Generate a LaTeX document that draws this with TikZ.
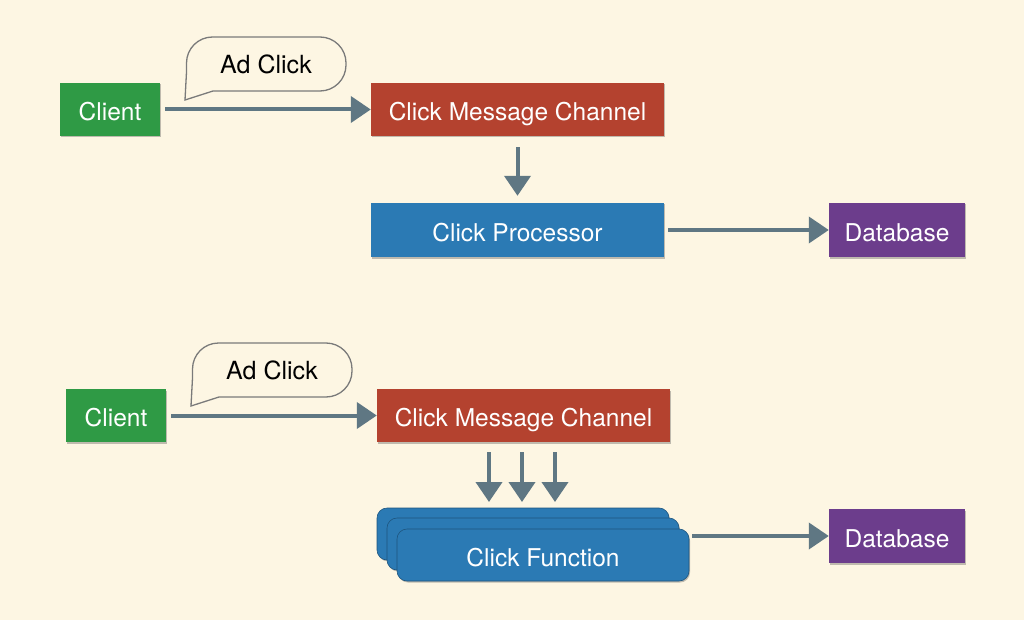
\documentclass[tikz,border=0pt]{standalone}
\usepackage{fontspec}
\setmainfont{TeX Gyre Heros}
\usetikzlibrary{arrows.meta,shadows}
\definecolor{bg}{HTML}{FDF6E3}
\definecolor{cgreen}{HTML}{2F9A45}
\definecolor{cred}{HTML}{B4422F}
\definecolor{cblue}{HTML}{2B7AB4}
\definecolor{cpurple}{HTML}{6C3D8C}
\definecolor{carrow}{HTML}{5F7783}
\definecolor{cbubble}{HTML}{7A7A7A}
\tikzset{
  box/.style={draw=none, inner sep=0pt, text=white, font=\fontsize{24.5}{28}\selectfont,
    text height=22pt, text depth=0pt,
    drop shadow={shadow xshift=1pt, shadow yshift=-1.5pt, opacity=0.35, fill=black!70}},
  conn/.style={draw=carrow, line width=4pt, -{Triangle[length=20pt,width=26pt]}},
  bubble/.style={draw=cbubble, line width=1.3pt, fill=bg},
  bubtext/.style={font=\fontsize{25}{28}\selectfont, text=black, inner sep=0pt},
  fnbox/.style={box, fill=cblue, rounded corners=10pt, draw=cblue!70!black, line width=0.6pt}
}
\begin{document}
\begin{tikzpicture}[x=1pt,y=-1pt]
\useasboundingbox (0,0) rectangle (1024,620);
\fill[bg] (0,0) rectangle (1024,620);

% ---------- top diagram ----------
\node[box, fill=cgreen, minimum width=100pt, minimum height=53pt] (c1) at (110,109.5) {Client};
\node[box, fill=cred, minimum width=293pt, minimum height=53pt] (m1) at (517.5,109.5) {Click Message Channel};
\node[box, fill=cblue, minimum width=293pt, minimum height=54pt] (p1) at (517.5,230) {Click Processor};
\node[box, fill=cpurple, minimum width=136pt, minimum height=54pt] (d1) at (897,230) {Database};

\draw[bubble] (185,100) -- (186.5,72) [rounded corners=26pt] -- (186.5,37) -- (346,37) -- (346,91) [sharp corners] -- (213,91) -- cycle;
\node[bubtext] (b1) at (266,64) {Ad Click};

\coordinate (c1s) at ([xshift=5pt]c1.east);
\draw[conn] (c1s) -- (m1.west);
\draw[conn] ([yshift=-11pt]m1.south) -- ([yshift=7pt]p1.north);
\draw[conn] ([xshift=4pt]p1.east) -- (d1.west);

% ---------- bottom diagram ----------
\node[box, fill=cgreen, minimum width=100pt, minimum height=53pt] (c2) at (116,415.5) {Client};
\node[box, fill=cred, minimum width=293pt, minimum height=53pt] (m2) at (523.5,415.5) {Click Message Channel};
\node[box, fill=cpurple, minimum width=136pt, minimum height=54pt] (d2) at (897,536) {Database};

\draw[bubble] (191,406) -- (192.5,378) [rounded corners=26pt] -- (192.5,343) -- (352,343) -- (352,397) [sharp corners] -- (219,397) -- cycle;
\node[bubtext] (b2) at (272,370) {Ad Click};

\node[fnbox, minimum width=292pt, minimum height=52pt] (f1) at (523,534) {};
\node[fnbox, minimum width=292pt, minimum height=52pt] (f2) at (533,544) {};
\node[fnbox, minimum width=292pt, minimum height=52pt] (f3) at (543,555) {Click Function};

\coordinate (c2s) at ([xshift=5pt]c2.east);
\draw[conn] (c2s) -- (m2.west);
\coordinate (a1s) at (489,452);
\coordinate (a1e) at (489,502);
\coordinate (a2s) at (522,452);
\coordinate (a2e) at (522,502);
\coordinate (a3s) at (555,452);
\coordinate (a3e) at (555,502);
\draw[conn] (a1s) -- (a1e);
\draw[conn] (a2s) -- (a2e);
\draw[conn] (a3s) -- (a3e);
\coordinate (f3s) at (692,536);
\draw[conn] (f3s) -- (d2.west);
\end{tikzpicture}
\end{document}
